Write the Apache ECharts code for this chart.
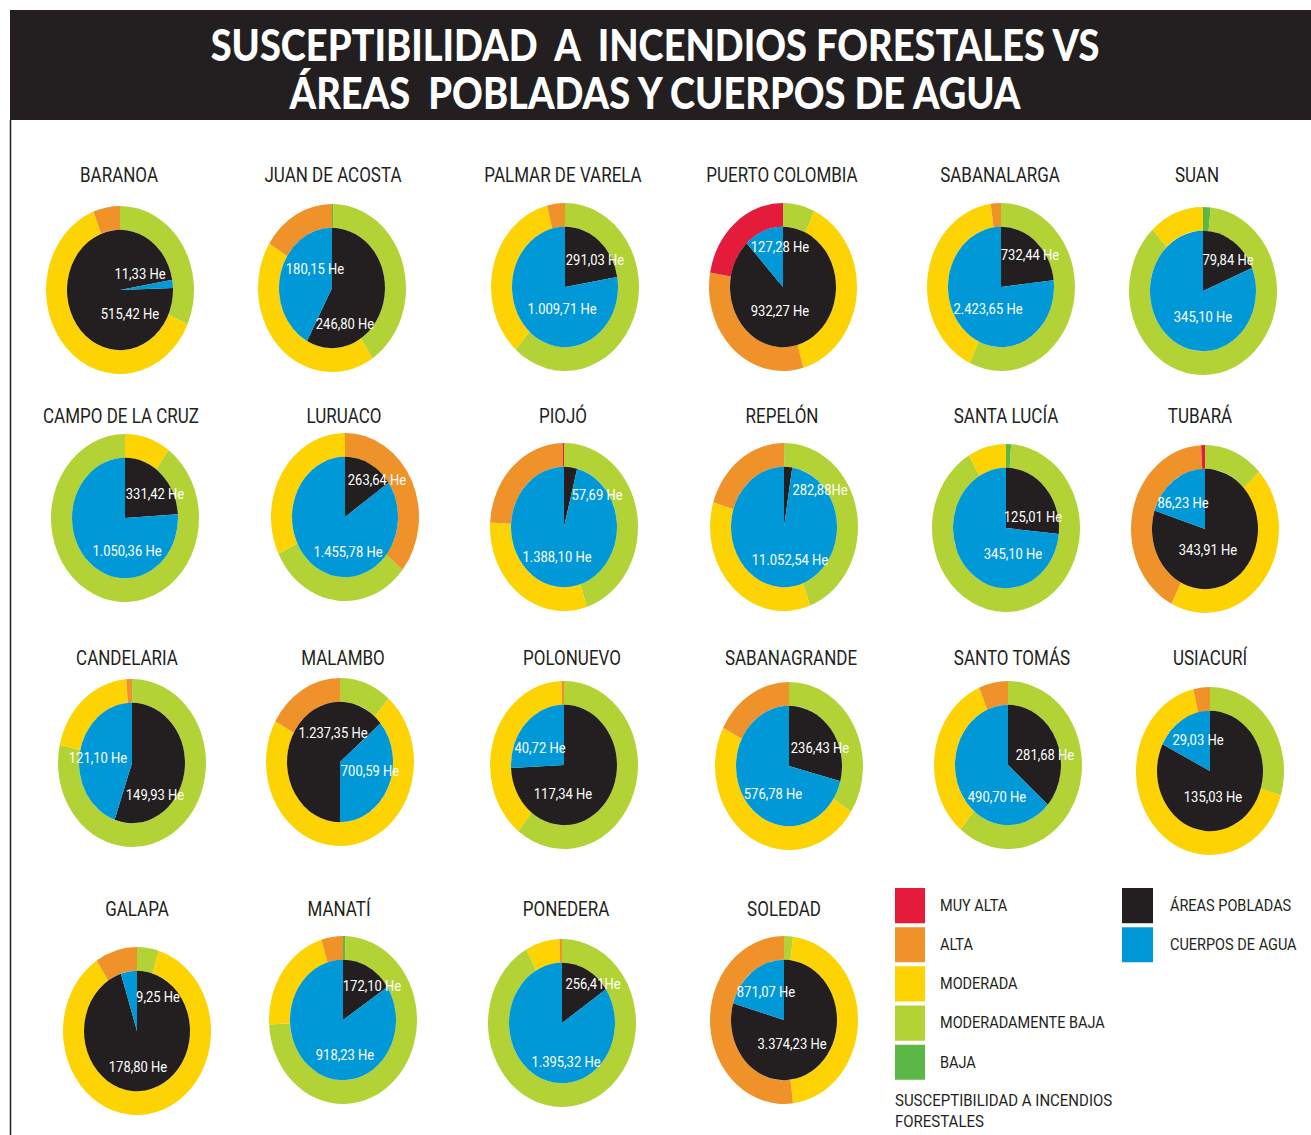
<!DOCTYPE html>
<html style="height:1135px">
<head>
<meta charset="utf-8">
<script src="https://cdn.jsdelivr.net/npm/echarts@6/dist/echarts.min.js"></script>
</head>
<body style="margin:0;background:#fff;height:1135px">
<div style="width:1311px;height:1135px;position:relative">
  <div id="container" style="position:absolute;left:0;top:0;width:1311px;height:1000px;transform:scaleY(1.135);transform-origin:0 0"></div>
</div>
<script>
// the source picture is stretched vertically, so the chart is drawn flat and scaled in Y
var S = 1.135;

var municipios = ['BARANOA', 'JUAN DE ACOSTA', 'PALMAR DE VARELA', 'PUERTO COLOMBIA', 'SABANALARGA', 'SUAN',
  'CAMPO DE LA CRUZ', 'LURUACO', 'PIOJÓ', 'REPELÓN', 'SANTA LUCÍA', 'TUBARÁ',
  'CANDELARIA', 'MALAMBO', 'POLONUEVO', 'SABANAGRANDE', 'SANTO TOMÁS', 'USIACURÍ',
  'GALAPA', 'MANATÍ', 'PONEDERA', 'SOLEDAD'];

// hectares
var pobladas = [515.42, 246.80, 291.03, 932.27, 732.44, 79.84, 331.42, 263.64, 57.69, 282.88, 125.01, 343.91,
  149.93, 1237.35, 117.34, 236.43, 281.68, 135.03, 178.80, 172.10, 256.41, 3374.23];
var agua = [11.33, 180.15, 1009.71, 127.28, 2423.65, 345.10, 1050.36, 1455.78, 1388.10, 11052.54, 345.10, 86.23,
  121.10, 700.59, 40.72, 576.78, 490.70, 29.03, 9.25, 918.23, 1395.32, 871.07];

// susceptibility ring, share of the circle (degrees)
var baja     = [0, 1, 0, 0, 0, 6, 0, 0, 0, 0.5, 4, 0, 0.5, 0, 0, 0, 0, 0, 0, 2, 0, 0];
var modBaja  = [114, 146, 222, 25, 205, 311, 324, 115, 162, 159, 326, 47, 282, 41, 218, 123, 220, 107, 17, 265, 331, 7];
var moderada = [225, 155, 124, 139, 147, 43, 36, 116, 111, 128, 30, 160, 73, 258, 140, 174, 117, 240, 310, 76, 27, 166];
var alta     = [21, 58, 14, 116, 8, 0, 0, 129, 86, 73, 0, 150, 4.5, 61, 2, 63, 23, 13, 33, 17, 2, 187];
var muyAlta  = [0, 0, 0, 80, 0, 0, 0, 0, 1, 0, 0, 3, 0, 0, 0, 0, 0, 0, 0, 0, 0, 0];

var niveles = ['BAJA', 'MODERADAMENTE BAJA', 'MODERADA', 'ALTA', 'MUY ALTA'];
var coloresNivel = ['#5BB846', '#B3D235', '#FDD304', '#F0922A', '#E41B3B'];
var anillo = [baja, modBaja, moderada, alta, muyAlta];

// layout (pixels of the original picture)
var inicioAnillo = [0, 0, 0, 0, 0, 0, 36, 129, 0, 0, 0, 0, 0, 0, 0, 0, 0, 0, 0, 0, 0, 0];
var inicioPastel = [88, 0, 0, 0, 0, 0, 0, 0, 0, 0, 0, 0, 0, 180, 0, 0, 0, 0, 0, 0, 0, 0];
var cx = [120, 332, 565, 783, 1001, 1203, 125, 345, 564, 784, 1006, 1205, 132, 340, 564, 789, 1008, 1210, 137, 343, 562, 784];
var cy = [290, 288, 287, 287, 287, 291, 518, 517, 527, 527, 528, 529, 763, 762, 765, 766, 765, 771, 1031, 1020, 1023, 1020];
var tituloX = [119, 333, 563, 782, 1000, 1197, 121, 344, 563, 782, 1006, 1200, 127, 343, 572, 791, 1012, 1210, 137, 339, 566, 784];
var tituloY = [175, 416, 658, 909];
// label offsets from the centre: [pobladas dx, dy, agua dx, dy]
var etiquetas = [
  [10, 24, 20, -16], [13, 36, -17, -19], [30, -27, -3, 22], [-3, 24, -3, -40], [29, -32, -13, 22], [25, -31, 0, 26],
  [30, -24, 2, 33], [32, -37, 3, 35], [33, -32, -7, 30], [36, -37, 6, 33], [27, -11, 7, 26], [3, 21, -22, -26],
  [23, 32, -34, -5], [-7, -29, 30, 9], [-1, 29, -24, -17], [31, -18, -16, 28], [37, -10, -11, 32], [3, 26, -12, -31],
  [1, 36, 21, -34], [29, -34, 2, 35], [31, -39, 4, 39], [8, 24, -18, -28]
];
var sinEspacio = ['REPELÓN', 'PONEDERA'];

function fmt(v) {
  var p = v.toFixed(2).split('.');
  return p[0].replace(/\B(?=(\d{3})+(?!\d))/g, '.') + ',' + p[1];
}

var series = [];
var graphic = [
  { type: 'rect', shape: { x: 10, y: 10 / S, width: 1301, height: 110 / S }, style: { fill: '#231F20' } },
  { type: 'line', shape: { x1: 10.5, y1: 120 / S, x2: 10.5, y2: 1000 }, style: { stroke: '#231F20', lineWidth: 1.5 } },
  { type: 'text', x: 655, y: 45 / S, style: { text: 'SUSCEPTIBILIDAD  A  INCENDIOS FORESTALES VS', fill: '#fff',
      font: '900 38px Lato', textAlign: 'center', textVerticalAlign: 'middle' } },
  { type: 'text', x: 655, y: 93 / S, style: { text: 'ÁREAS  POBLADAS Y CUERPOS DE AGUA', fill: '#fff',
      font: '900 38px Lato', textAlign: 'center', textVerticalAlign: 'middle' } },
  { type: 'text', x: 895, y: 1100 / S, style: { text: 'SUSCEPTIBILIDAD A INCENDIOS', fill: '#231F20',
      font: '15px Roboto', textVerticalAlign: 'middle' } },
  { type: 'text', x: 895, y: 1121 / S, style: { text: 'FORESTALES', fill: '#231F20',
      font: '15px Roboto', textVerticalAlign: 'middle' } }
];

municipios.forEach(function (m, i) {
  graphic.push({ type: 'text', x: tituloX[i], y: tituloY[Math.floor(i / 6)] / S,
    style: { text: m, fill: '#231F20', font: '17px Roboto', textAlign: 'center', textVerticalAlign: 'middle' } });

  series.push({
    type: 'pie',
    center: [cx[i], cy[i] / S],
    radius: [53, 74],
    startAngle: 90 - inicioAnillo[i],
    silent: true,
    animation: false,
    label: { show: false },
    labelLine: { show: false },
    data: niveles.map(function (n, k) {
      return { name: n, value: anillo[k][i], itemStyle: { color: coloresNivel[k] } };
    })
  });

  series.push({
    type: 'pie',
    center: [cx[i], cy[i] / S],
    radius: [0, 53],
    startAngle: 90 - inicioPastel[i],
    silent: true,
    animation: false,
    label: {
      show: true,
      position: 'inside',
      color: '#fff',
      fontSize: 13,
      fontFamily: 'Roboto',
      formatter: function (p) {
        var sep = (p.dataIndex === 0 && sinEspacio.indexOf(m) >= 0) ? '' : ' ';
        return fmt(p.value) + sep + 'He';
      }
    },
    labelLayout: function (p) {
      var o = etiquetas[i];
      var d = p.dataIndex;
      return { x: cx[i] + o[d * 2], y: (cy[i] + o[d * 2 + 1]) / S, align: 'center', verticalAlign: 'middle' };
    },
    data: [
      { name: 'ÁREAS POBLADAS', value: pobladas[i], itemStyle: { color: '#231F20' } },
      { name: 'CUERPOS DE AGUA', value: agua[i], itemStyle: { color: '#0098D6' } }
    ]
  });
});

var chart = echarts.init(document.getElementById('container'), null, { renderer: 'svg' });
chart.setOption({
  animation: false,
  legend: [{
    data: ['MUY ALTA', 'ALTA', 'MODERADA', 'MODERADAMENTE BAJA', 'BAJA'],
    orient: 'vertical',
    left: 895,
    top: 888 / S,
    padding: 0,
    itemWidth: 30,
    itemHeight: 31,
    itemGap: 3.5,
    icon: 'rect',
    selectedMode: false,
    textStyle: { fontSize: 14.5, fontFamily: 'Roboto', color: '#231F20', padding: [0, 0, 0, 10] }
  }, {
    data: ['ÁREAS POBLADAS', 'CUERPOS DE AGUA'],
    orient: 'vertical',
    left: 1122,
    top: 888 / S,
    padding: 0,
    itemWidth: 31,
    itemHeight: 31,
    itemGap: 3.5,
    icon: 'rect',
    selectedMode: false,
    textStyle: { fontSize: 14.5, fontFamily: 'Roboto', color: '#231F20', padding: [0, 0, 0, 12] }
  }],
  graphic: graphic,
  series: series
});
</script>
</body>
</html>
